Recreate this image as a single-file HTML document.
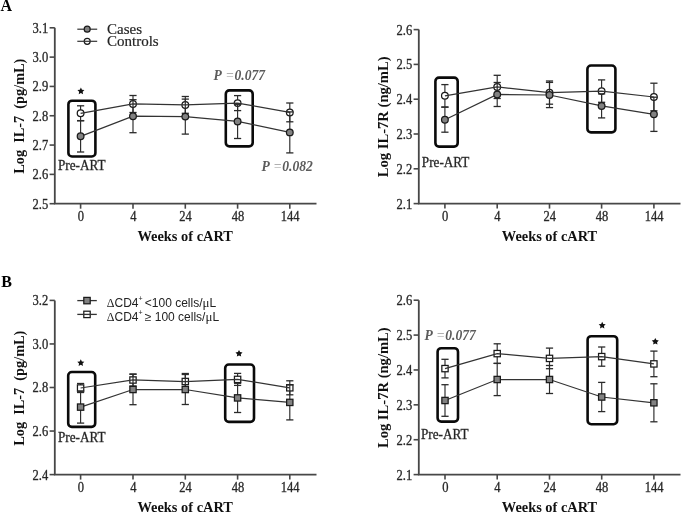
<!DOCTYPE html>
<html><head><meta charset="utf-8"><style>
html,body{margin:0;padding:0;background:#fff;}
body{width:685px;height:514px;overflow:hidden;font-family:"Liberation Serif", serif;}
svg{display:block;filter:blur(0.35px);}
</style></head><body>
<svg width="685" height="514" viewBox="0 0 685 514">
<rect width="685" height="514" fill="#fff"/>
<path d="M54.8,27.8 L54.8,203.7 L316.5,203.7" fill="none" stroke="#474747" stroke-width="1.8"/>
<line x1="49.6" y1="27.8" x2="54.8" y2="27.8" stroke="#474747" stroke-width="1.6"/>
<text x="0" y="0" transform="translate(48.2,32.7) scale(0.95,1.12)" font-family='"Liberation Serif", serif' font-size="13.2" font-weight="normal" font-style="normal" text-anchor="end" fill="#222" stroke="#333" stroke-width="0.3">3.1</text>
<line x1="49.6" y1="57.12" x2="54.8" y2="57.12" stroke="#474747" stroke-width="1.6"/>
<text x="0" y="0" transform="translate(48.2,62.02) scale(0.95,1.12)" font-family='"Liberation Serif", serif' font-size="13.2" font-weight="normal" font-style="normal" text-anchor="end" fill="#222" stroke="#333" stroke-width="0.3">3.0</text>
<line x1="49.6" y1="86.43" x2="54.8" y2="86.43" stroke="#474747" stroke-width="1.6"/>
<text x="0" y="0" transform="translate(48.2,91.33) scale(0.95,1.12)" font-family='"Liberation Serif", serif' font-size="13.2" font-weight="normal" font-style="normal" text-anchor="end" fill="#222" stroke="#333" stroke-width="0.3">2.9</text>
<line x1="49.6" y1="115.75" x2="54.8" y2="115.75" stroke="#474747" stroke-width="1.6"/>
<text x="0" y="0" transform="translate(48.2,120.65) scale(0.95,1.12)" font-family='"Liberation Serif", serif' font-size="13.2" font-weight="normal" font-style="normal" text-anchor="end" fill="#222" stroke="#333" stroke-width="0.3">2.8</text>
<line x1="49.6" y1="145.07" x2="54.8" y2="145.07" stroke="#474747" stroke-width="1.6"/>
<text x="0" y="0" transform="translate(48.2,149.97) scale(0.95,1.12)" font-family='"Liberation Serif", serif' font-size="13.2" font-weight="normal" font-style="normal" text-anchor="end" fill="#222" stroke="#333" stroke-width="0.3">2.7</text>
<line x1="49.6" y1="174.38" x2="54.8" y2="174.38" stroke="#474747" stroke-width="1.6"/>
<text x="0" y="0" transform="translate(48.2,179.28) scale(0.95,1.12)" font-family='"Liberation Serif", serif' font-size="13.2" font-weight="normal" font-style="normal" text-anchor="end" fill="#222" stroke="#333" stroke-width="0.3">2.6</text>
<line x1="49.6" y1="203.7" x2="54.8" y2="203.7" stroke="#474747" stroke-width="1.6"/>
<text x="0" y="0" transform="translate(48.2,208.6) scale(0.95,1.12)" font-family='"Liberation Serif", serif' font-size="13.2" font-weight="normal" font-style="normal" text-anchor="end" fill="#222" stroke="#333" stroke-width="0.3">2.5</text>
<line x1="80.6" y1="203.7" x2="80.6" y2="208.7" stroke="#474747" stroke-width="1.6"/>
<text x="0" y="0" transform="translate(80.9,221) scale(0.95,1.12)" font-family='"Liberation Serif", serif' font-size="13.2" font-weight="normal" font-style="normal" text-anchor="middle" fill="#222" stroke="#333" stroke-width="0.3">0</text>
<line x1="133" y1="203.7" x2="133" y2="208.7" stroke="#474747" stroke-width="1.6"/>
<text x="0" y="0" transform="translate(133.3,221) scale(0.95,1.12)" font-family='"Liberation Serif", serif' font-size="13.2" font-weight="normal" font-style="normal" text-anchor="middle" fill="#222" stroke="#333" stroke-width="0.3">4</text>
<line x1="185.3" y1="203.7" x2="185.3" y2="208.7" stroke="#474747" stroke-width="1.6"/>
<text x="0" y="0" transform="translate(185.6,221) scale(0.95,1.12)" font-family='"Liberation Serif", serif' font-size="13.2" font-weight="normal" font-style="normal" text-anchor="middle" fill="#222" stroke="#333" stroke-width="0.3">24</text>
<line x1="237.6" y1="203.7" x2="237.6" y2="208.7" stroke="#474747" stroke-width="1.6"/>
<text x="0" y="0" transform="translate(237.9,221) scale(0.95,1.12)" font-family='"Liberation Serif", serif' font-size="13.2" font-weight="normal" font-style="normal" text-anchor="middle" fill="#222" stroke="#333" stroke-width="0.3">48</text>
<line x1="289.8" y1="203.7" x2="289.8" y2="208.7" stroke="#474747" stroke-width="1.6"/>
<text x="0" y="0" transform="translate(290.1,221) scale(0.95,1.12)" font-family='"Liberation Serif", serif' font-size="13.2" font-weight="normal" font-style="normal" text-anchor="middle" fill="#222" stroke="#333" stroke-width="0.3">144</text>
<text x="185.2" y="240.9" font-family='"Liberation Serif", serif' font-size="14.4" font-weight="bold" font-style="normal" text-anchor="middle" fill="#111" >Weeks of cART</text>
<text x="0" y="0" font-family='"Liberation Serif", serif' font-size="14.3" font-weight="bold" font-style="normal" text-anchor="middle" fill="#111" transform="translate(24.4,116.2) rotate(-90)">Log&#160;&#160;IL-7&#160;&#160;(pg/mL)</text>
<rect x="68.4" y="100.7" width="27" height="55.8" rx="3.6" ry="3.6" fill="none" stroke="#0a0a0a" stroke-width="2.6"/>
<rect x="225.8" y="90.4" width="26.9" height="56" rx="3.6" ry="3.6" fill="none" stroke="#0a0a0a" stroke-width="2.6"/>
<line x1="80.6" y1="105.8" x2="80.6" y2="120.8" stroke="#2a2a2a" stroke-width="1.15"/>
<line x1="77" y1="105.8" x2="84.2" y2="105.8" stroke="#2a2a2a" stroke-width="1.3"/>
<line x1="77" y1="120.8" x2="84.2" y2="120.8" stroke="#2a2a2a" stroke-width="1.3"/>
<line x1="133" y1="95.5" x2="133" y2="112.5" stroke="#2a2a2a" stroke-width="1.15"/>
<line x1="129.4" y1="95.5" x2="136.6" y2="95.5" stroke="#2a2a2a" stroke-width="1.3"/>
<line x1="129.4" y1="112.5" x2="136.6" y2="112.5" stroke="#2a2a2a" stroke-width="1.3"/>
<line x1="185.3" y1="96.5" x2="185.3" y2="113.3" stroke="#2a2a2a" stroke-width="1.15"/>
<line x1="181.7" y1="96.5" x2="188.9" y2="96.5" stroke="#2a2a2a" stroke-width="1.3"/>
<line x1="181.7" y1="113.3" x2="188.9" y2="113.3" stroke="#2a2a2a" stroke-width="1.3"/>
<line x1="237.6" y1="95.6" x2="237.6" y2="110.6" stroke="#2a2a2a" stroke-width="1.15"/>
<line x1="234" y1="95.6" x2="241.2" y2="95.6" stroke="#2a2a2a" stroke-width="1.3"/>
<line x1="234" y1="110.6" x2="241.2" y2="110.6" stroke="#2a2a2a" stroke-width="1.3"/>
<line x1="289.8" y1="103" x2="289.8" y2="121.8" stroke="#2a2a2a" stroke-width="1.15"/>
<line x1="286.2" y1="103" x2="293.4" y2="103" stroke="#2a2a2a" stroke-width="1.3"/>
<line x1="286.2" y1="121.8" x2="293.4" y2="121.8" stroke="#2a2a2a" stroke-width="1.3"/>
<circle cx="80.6" cy="113.3" r="3.35" fill="#fff" stroke="#1a1a1a" stroke-width="1.25"/>
<circle cx="133" cy="104" r="3.35" fill="#fff" stroke="#1a1a1a" stroke-width="1.25"/>
<circle cx="185.3" cy="104.9" r="3.35" fill="#fff" stroke="#1a1a1a" stroke-width="1.25"/>
<circle cx="237.6" cy="103.1" r="3.35" fill="#fff" stroke="#1a1a1a" stroke-width="1.25"/>
<circle cx="289.8" cy="112.4" r="3.35" fill="#fff" stroke="#1a1a1a" stroke-width="1.25"/>
<polyline points="80.6,113.3 133,104 185.3,104.9 237.6,103.1 289.8,112.4" fill="none" stroke="#333" stroke-width="1.25"/>
<line x1="80.6" y1="120.6" x2="80.6" y2="152" stroke="#2a2a2a" stroke-width="1.15"/>
<line x1="77" y1="120.6" x2="84.2" y2="120.6" stroke="#2a2a2a" stroke-width="1.3"/>
<line x1="77" y1="152" x2="84.2" y2="152" stroke="#2a2a2a" stroke-width="1.3"/>
<line x1="133" y1="99.7" x2="133" y2="132.7" stroke="#2a2a2a" stroke-width="1.15"/>
<line x1="129.4" y1="99.7" x2="136.6" y2="99.7" stroke="#2a2a2a" stroke-width="1.3"/>
<line x1="129.4" y1="132.7" x2="136.6" y2="132.7" stroke="#2a2a2a" stroke-width="1.3"/>
<line x1="185.3" y1="99.1" x2="185.3" y2="134.1" stroke="#2a2a2a" stroke-width="1.15"/>
<line x1="181.7" y1="99.1" x2="188.9" y2="99.1" stroke="#2a2a2a" stroke-width="1.3"/>
<line x1="181.7" y1="134.1" x2="188.9" y2="134.1" stroke="#2a2a2a" stroke-width="1.3"/>
<line x1="237.6" y1="104.3" x2="237.6" y2="138.5" stroke="#2a2a2a" stroke-width="1.15"/>
<line x1="234" y1="104.3" x2="241.2" y2="104.3" stroke="#2a2a2a" stroke-width="1.3"/>
<line x1="234" y1="138.5" x2="241.2" y2="138.5" stroke="#2a2a2a" stroke-width="1.3"/>
<line x1="289.8" y1="111.9" x2="289.8" y2="152.9" stroke="#2a2a2a" stroke-width="1.15"/>
<line x1="286.2" y1="111.9" x2="293.4" y2="111.9" stroke="#2a2a2a" stroke-width="1.3"/>
<line x1="286.2" y1="152.9" x2="293.4" y2="152.9" stroke="#2a2a2a" stroke-width="1.3"/>
<polyline points="80.6,136.3 133,116.2 185.3,116.6 237.6,121.4 289.8,132.4" fill="none" stroke="#333" stroke-width="1.25"/>
<circle cx="80.6" cy="136.3" r="3.35" fill="#828282" stroke="#1a1a1a" stroke-width="1.25"/>
<circle cx="133" cy="116.2" r="3.35" fill="#828282" stroke="#1a1a1a" stroke-width="1.25"/>
<circle cx="185.3" cy="116.6" r="3.35" fill="#828282" stroke="#1a1a1a" stroke-width="1.25"/>
<circle cx="237.6" cy="121.4" r="3.35" fill="#828282" stroke="#1a1a1a" stroke-width="1.25"/>
<circle cx="289.8" cy="132.4" r="3.35" fill="#828282" stroke="#1a1a1a" stroke-width="1.25"/>
<polygon points="80.9,87.5 81.99,89.7 84.42,90.06 82.66,91.77 83.07,94.19 80.9,93.05 78.73,94.19 79.14,91.77 77.38,90.06 79.81,89.7" fill="#111"/>
<text x="0" y="0" transform="translate(58,170.3) scale(1.0,1.1)" font-family='"Liberation Serif", serif' font-size="13.2" font-weight="normal" font-style="normal" text-anchor="start" fill="#222" stroke="#333" stroke-width="0.3">Pre-ART</text>
<path d="M418.8,29.6 L418.8,203.6 L680.5,203.6" fill="none" stroke="#474747" stroke-width="1.8"/>
<line x1="413.6" y1="29.6" x2="418.8" y2="29.6" stroke="#474747" stroke-width="1.6"/>
<text x="0" y="0" transform="translate(412.2,34.5) scale(0.95,1.12)" font-family='"Liberation Serif", serif' font-size="13.2" font-weight="normal" font-style="normal" text-anchor="end" fill="#222" stroke="#333" stroke-width="0.3">2.6</text>
<line x1="413.6" y1="64.4" x2="418.8" y2="64.4" stroke="#474747" stroke-width="1.6"/>
<text x="0" y="0" transform="translate(412.2,69.3) scale(0.95,1.12)" font-family='"Liberation Serif", serif' font-size="13.2" font-weight="normal" font-style="normal" text-anchor="end" fill="#222" stroke="#333" stroke-width="0.3">2.5</text>
<line x1="413.6" y1="99.2" x2="418.8" y2="99.2" stroke="#474747" stroke-width="1.6"/>
<text x="0" y="0" transform="translate(412.2,104.1) scale(0.95,1.12)" font-family='"Liberation Serif", serif' font-size="13.2" font-weight="normal" font-style="normal" text-anchor="end" fill="#222" stroke="#333" stroke-width="0.3">2.4</text>
<line x1="413.6" y1="134" x2="418.8" y2="134" stroke="#474747" stroke-width="1.6"/>
<text x="0" y="0" transform="translate(412.2,138.9) scale(0.95,1.12)" font-family='"Liberation Serif", serif' font-size="13.2" font-weight="normal" font-style="normal" text-anchor="end" fill="#222" stroke="#333" stroke-width="0.3">2.3</text>
<line x1="413.6" y1="168.8" x2="418.8" y2="168.8" stroke="#474747" stroke-width="1.6"/>
<text x="0" y="0" transform="translate(412.2,173.7) scale(0.95,1.12)" font-family='"Liberation Serif", serif' font-size="13.2" font-weight="normal" font-style="normal" text-anchor="end" fill="#222" stroke="#333" stroke-width="0.3">2.2</text>
<line x1="413.6" y1="203.6" x2="418.8" y2="203.6" stroke="#474747" stroke-width="1.6"/>
<text x="0" y="0" transform="translate(412.2,208.5) scale(0.95,1.12)" font-family='"Liberation Serif", serif' font-size="13.2" font-weight="normal" font-style="normal" text-anchor="end" fill="#222" stroke="#333" stroke-width="0.3">2.1</text>
<line x1="444.9" y1="203.6" x2="444.9" y2="208.6" stroke="#474747" stroke-width="1.6"/>
<text x="0" y="0" transform="translate(445.2,220.9) scale(0.95,1.12)" font-family='"Liberation Serif", serif' font-size="13.2" font-weight="normal" font-style="normal" text-anchor="middle" fill="#222" stroke="#333" stroke-width="0.3">0</text>
<line x1="497.2" y1="203.6" x2="497.2" y2="208.6" stroke="#474747" stroke-width="1.6"/>
<text x="0" y="0" transform="translate(497.5,220.9) scale(0.95,1.12)" font-family='"Liberation Serif", serif' font-size="13.2" font-weight="normal" font-style="normal" text-anchor="middle" fill="#222" stroke="#333" stroke-width="0.3">4</text>
<line x1="549.5" y1="203.6" x2="549.5" y2="208.6" stroke="#474747" stroke-width="1.6"/>
<text x="0" y="0" transform="translate(549.8,220.9) scale(0.95,1.12)" font-family='"Liberation Serif", serif' font-size="13.2" font-weight="normal" font-style="normal" text-anchor="middle" fill="#222" stroke="#333" stroke-width="0.3">24</text>
<line x1="601.6" y1="203.6" x2="601.6" y2="208.6" stroke="#474747" stroke-width="1.6"/>
<text x="0" y="0" transform="translate(601.9,220.9) scale(0.95,1.12)" font-family='"Liberation Serif", serif' font-size="13.2" font-weight="normal" font-style="normal" text-anchor="middle" fill="#222" stroke="#333" stroke-width="0.3">48</text>
<line x1="653.9" y1="203.6" x2="653.9" y2="208.6" stroke="#474747" stroke-width="1.6"/>
<text x="0" y="0" transform="translate(654.2,220.9) scale(0.95,1.12)" font-family='"Liberation Serif", serif' font-size="13.2" font-weight="normal" font-style="normal" text-anchor="middle" fill="#222" stroke="#333" stroke-width="0.3">144</text>
<text x="549.5" y="240.8" font-family='"Liberation Serif", serif' font-size="14.4" font-weight="bold" font-style="normal" text-anchor="middle" fill="#111" >Weeks of cART</text>
<text x="0" y="0" font-family='"Liberation Serif", serif' font-size="14.6" font-weight="bold" font-style="normal" text-anchor="middle" fill="#111" transform="translate(388.4,116.8) rotate(-90)">Log IL-7R (ng/mL)</text>
<rect x="435.4" y="77.6" width="22.3" height="69" rx="3.6" ry="3.6" fill="none" stroke="#0a0a0a" stroke-width="2.6"/>
<rect x="587.4" y="65.5" width="28" height="66.9" rx="3.6" ry="3.6" fill="none" stroke="#0a0a0a" stroke-width="2.6"/>
<line x1="444.9" y1="84.6" x2="444.9" y2="107" stroke="#2a2a2a" stroke-width="1.15"/>
<line x1="441.3" y1="84.6" x2="448.5" y2="84.6" stroke="#2a2a2a" stroke-width="1.3"/>
<line x1="441.3" y1="107" x2="448.5" y2="107" stroke="#2a2a2a" stroke-width="1.3"/>
<line x1="497.2" y1="75.3" x2="497.2" y2="98.5" stroke="#2a2a2a" stroke-width="1.15"/>
<line x1="493.6" y1="75.3" x2="500.8" y2="75.3" stroke="#2a2a2a" stroke-width="1.3"/>
<line x1="493.6" y1="98.5" x2="500.8" y2="98.5" stroke="#2a2a2a" stroke-width="1.3"/>
<line x1="549.5" y1="81" x2="549.5" y2="104.2" stroke="#2a2a2a" stroke-width="1.15"/>
<line x1="545.9" y1="81" x2="553.1" y2="81" stroke="#2a2a2a" stroke-width="1.3"/>
<line x1="545.9" y1="104.2" x2="553.1" y2="104.2" stroke="#2a2a2a" stroke-width="1.3"/>
<line x1="601.6" y1="79.9" x2="601.6" y2="102.3" stroke="#2a2a2a" stroke-width="1.15"/>
<line x1="598" y1="79.9" x2="605.2" y2="79.9" stroke="#2a2a2a" stroke-width="1.3"/>
<line x1="598" y1="102.3" x2="605.2" y2="102.3" stroke="#2a2a2a" stroke-width="1.3"/>
<line x1="653.9" y1="83.2" x2="653.9" y2="110.8" stroke="#2a2a2a" stroke-width="1.15"/>
<line x1="650.3" y1="83.2" x2="657.5" y2="83.2" stroke="#2a2a2a" stroke-width="1.3"/>
<line x1="650.3" y1="110.8" x2="657.5" y2="110.8" stroke="#2a2a2a" stroke-width="1.3"/>
<circle cx="444.9" cy="95.8" r="3.35" fill="#fff" stroke="#1a1a1a" stroke-width="1.25"/>
<circle cx="497.2" cy="86.9" r="3.35" fill="#fff" stroke="#1a1a1a" stroke-width="1.25"/>
<circle cx="549.5" cy="92.6" r="3.35" fill="#fff" stroke="#1a1a1a" stroke-width="1.25"/>
<circle cx="601.6" cy="91.1" r="3.35" fill="#fff" stroke="#1a1a1a" stroke-width="1.25"/>
<circle cx="653.9" cy="97" r="3.35" fill="#fff" stroke="#1a1a1a" stroke-width="1.25"/>
<polyline points="444.9,95.8 497.2,86.9 549.5,92.6 601.6,91.1 653.9,97" fill="none" stroke="#333" stroke-width="1.25"/>
<line x1="444.9" y1="107.2" x2="444.9" y2="132.2" stroke="#2a2a2a" stroke-width="1.15"/>
<line x1="441.3" y1="107.2" x2="448.5" y2="107.2" stroke="#2a2a2a" stroke-width="1.3"/>
<line x1="441.3" y1="132.2" x2="448.5" y2="132.2" stroke="#2a2a2a" stroke-width="1.3"/>
<line x1="497.2" y1="82.5" x2="497.2" y2="106.5" stroke="#2a2a2a" stroke-width="1.15"/>
<line x1="493.6" y1="82.5" x2="500.8" y2="82.5" stroke="#2a2a2a" stroke-width="1.3"/>
<line x1="493.6" y1="106.5" x2="500.8" y2="106.5" stroke="#2a2a2a" stroke-width="1.3"/>
<line x1="549.5" y1="82.4" x2="549.5" y2="107.6" stroke="#2a2a2a" stroke-width="1.15"/>
<line x1="545.9" y1="82.4" x2="553.1" y2="82.4" stroke="#2a2a2a" stroke-width="1.3"/>
<line x1="545.9" y1="107.6" x2="553.1" y2="107.6" stroke="#2a2a2a" stroke-width="1.3"/>
<line x1="601.6" y1="93.9" x2="601.6" y2="117.9" stroke="#2a2a2a" stroke-width="1.15"/>
<line x1="598" y1="93.9" x2="605.2" y2="93.9" stroke="#2a2a2a" stroke-width="1.3"/>
<line x1="598" y1="117.9" x2="605.2" y2="117.9" stroke="#2a2a2a" stroke-width="1.3"/>
<line x1="653.9" y1="97.2" x2="653.9" y2="131.4" stroke="#2a2a2a" stroke-width="1.15"/>
<line x1="650.3" y1="97.2" x2="657.5" y2="97.2" stroke="#2a2a2a" stroke-width="1.3"/>
<line x1="650.3" y1="131.4" x2="657.5" y2="131.4" stroke="#2a2a2a" stroke-width="1.3"/>
<polyline points="444.9,119.7 497.2,94.5 549.5,95 601.6,105.9 653.9,114.3" fill="none" stroke="#333" stroke-width="1.25"/>
<circle cx="444.9" cy="119.7" r="3.35" fill="#828282" stroke="#1a1a1a" stroke-width="1.25"/>
<circle cx="497.2" cy="94.5" r="3.35" fill="#828282" stroke="#1a1a1a" stroke-width="1.25"/>
<circle cx="549.5" cy="95" r="3.35" fill="#828282" stroke="#1a1a1a" stroke-width="1.25"/>
<circle cx="601.6" cy="105.9" r="3.35" fill="#828282" stroke="#1a1a1a" stroke-width="1.25"/>
<circle cx="653.9" cy="114.3" r="3.35" fill="#828282" stroke="#1a1a1a" stroke-width="1.25"/>
<text x="0" y="0" transform="translate(421.8,166.8) scale(1.0,1.1)" font-family='"Liberation Serif", serif' font-size="13.2" font-weight="normal" font-style="normal" text-anchor="start" fill="#222" stroke="#333" stroke-width="0.3">Pre-ART</text>
<path d="M54.8,300.4 L54.8,474.6 L316.5,474.6" fill="none" stroke="#474747" stroke-width="1.8"/>
<line x1="49.6" y1="300.4" x2="54.8" y2="300.4" stroke="#474747" stroke-width="1.6"/>
<text x="0" y="0" transform="translate(48.2,305.3) scale(0.95,1.12)" font-family='"Liberation Serif", serif' font-size="13.2" font-weight="normal" font-style="normal" text-anchor="end" fill="#222" stroke="#333" stroke-width="0.3">3.2</text>
<line x1="49.6" y1="343.95" x2="54.8" y2="343.95" stroke="#474747" stroke-width="1.6"/>
<text x="0" y="0" transform="translate(48.2,348.85) scale(0.95,1.12)" font-family='"Liberation Serif", serif' font-size="13.2" font-weight="normal" font-style="normal" text-anchor="end" fill="#222" stroke="#333" stroke-width="0.3">3.0</text>
<line x1="49.6" y1="387.5" x2="54.8" y2="387.5" stroke="#474747" stroke-width="1.6"/>
<text x="0" y="0" transform="translate(48.2,392.4) scale(0.95,1.12)" font-family='"Liberation Serif", serif' font-size="13.2" font-weight="normal" font-style="normal" text-anchor="end" fill="#222" stroke="#333" stroke-width="0.3">2.8</text>
<line x1="49.6" y1="431.05" x2="54.8" y2="431.05" stroke="#474747" stroke-width="1.6"/>
<text x="0" y="0" transform="translate(48.2,435.95) scale(0.95,1.12)" font-family='"Liberation Serif", serif' font-size="13.2" font-weight="normal" font-style="normal" text-anchor="end" fill="#222" stroke="#333" stroke-width="0.3">2.6</text>
<line x1="49.6" y1="474.6" x2="54.8" y2="474.6" stroke="#474747" stroke-width="1.6"/>
<text x="0" y="0" transform="translate(48.2,479.5) scale(0.95,1.12)" font-family='"Liberation Serif", serif' font-size="13.2" font-weight="normal" font-style="normal" text-anchor="end" fill="#222" stroke="#333" stroke-width="0.3">2.4</text>
<line x1="80.6" y1="474.6" x2="80.6" y2="479.6" stroke="#474747" stroke-width="1.6"/>
<text x="0" y="0" transform="translate(80.9,491.9) scale(0.95,1.12)" font-family='"Liberation Serif", serif' font-size="13.2" font-weight="normal" font-style="normal" text-anchor="middle" fill="#222" stroke="#333" stroke-width="0.3">0</text>
<line x1="133" y1="474.6" x2="133" y2="479.6" stroke="#474747" stroke-width="1.6"/>
<text x="0" y="0" transform="translate(133.3,491.9) scale(0.95,1.12)" font-family='"Liberation Serif", serif' font-size="13.2" font-weight="normal" font-style="normal" text-anchor="middle" fill="#222" stroke="#333" stroke-width="0.3">4</text>
<line x1="185.3" y1="474.6" x2="185.3" y2="479.6" stroke="#474747" stroke-width="1.6"/>
<text x="0" y="0" transform="translate(185.6,491.9) scale(0.95,1.12)" font-family='"Liberation Serif", serif' font-size="13.2" font-weight="normal" font-style="normal" text-anchor="middle" fill="#222" stroke="#333" stroke-width="0.3">24</text>
<line x1="237.6" y1="474.6" x2="237.6" y2="479.6" stroke="#474747" stroke-width="1.6"/>
<text x="0" y="0" transform="translate(237.9,491.9) scale(0.95,1.12)" font-family='"Liberation Serif", serif' font-size="13.2" font-weight="normal" font-style="normal" text-anchor="middle" fill="#222" stroke="#333" stroke-width="0.3">48</text>
<line x1="289.8" y1="474.6" x2="289.8" y2="479.6" stroke="#474747" stroke-width="1.6"/>
<text x="0" y="0" transform="translate(290.1,491.9) scale(0.95,1.12)" font-family='"Liberation Serif", serif' font-size="13.2" font-weight="normal" font-style="normal" text-anchor="middle" fill="#222" stroke="#333" stroke-width="0.3">144</text>
<text x="185.2" y="511.8" font-family='"Liberation Serif", serif' font-size="14.4" font-weight="bold" font-style="normal" text-anchor="middle" fill="#111" >Weeks of cART</text>
<text x="0" y="0" font-family='"Liberation Serif", serif' font-size="14.3" font-weight="bold" font-style="normal" text-anchor="middle" fill="#111" transform="translate(24.3,388.2) rotate(-90)">Log&#160;&#160;IL-7&#160;&#160;(pg/mL)</text>
<rect x="68.2" y="372" width="27" height="54.9" rx="3.6" ry="3.6" fill="none" stroke="#0a0a0a" stroke-width="2.6"/>
<rect x="225.2" y="364.5" width="28.8" height="57.4" rx="3.6" ry="3.6" fill="none" stroke="#0a0a0a" stroke-width="2.6"/>
<line x1="80.6" y1="383.5" x2="80.6" y2="392.5" stroke="#2a2a2a" stroke-width="1.15"/>
<line x1="77" y1="383.5" x2="84.2" y2="383.5" stroke="#2a2a2a" stroke-width="1.3"/>
<line x1="77" y1="392.5" x2="84.2" y2="392.5" stroke="#2a2a2a" stroke-width="1.3"/>
<line x1="133" y1="374" x2="133" y2="386" stroke="#2a2a2a" stroke-width="1.15"/>
<line x1="129.4" y1="374" x2="136.6" y2="374" stroke="#2a2a2a" stroke-width="1.3"/>
<line x1="129.4" y1="386" x2="136.6" y2="386" stroke="#2a2a2a" stroke-width="1.3"/>
<line x1="185.3" y1="373.5" x2="185.3" y2="389.5" stroke="#2a2a2a" stroke-width="1.15"/>
<line x1="181.7" y1="373.5" x2="188.9" y2="373.5" stroke="#2a2a2a" stroke-width="1.3"/>
<line x1="181.7" y1="389.5" x2="188.9" y2="389.5" stroke="#2a2a2a" stroke-width="1.3"/>
<line x1="237.6" y1="373.4" x2="237.6" y2="385.4" stroke="#2a2a2a" stroke-width="1.15"/>
<line x1="234" y1="373.4" x2="241.2" y2="373.4" stroke="#2a2a2a" stroke-width="1.3"/>
<line x1="234" y1="385.4" x2="241.2" y2="385.4" stroke="#2a2a2a" stroke-width="1.3"/>
<line x1="289.8" y1="380.8" x2="289.8" y2="394.8" stroke="#2a2a2a" stroke-width="1.15"/>
<line x1="286.2" y1="380.8" x2="293.4" y2="380.8" stroke="#2a2a2a" stroke-width="1.3"/>
<line x1="286.2" y1="394.8" x2="293.4" y2="394.8" stroke="#2a2a2a" stroke-width="1.3"/>
<rect x="77.45" y="384.85" width="6.3" height="6.3" fill="#fff" stroke="#1a1a1a" stroke-width="1.25"/>
<rect x="129.85" y="376.85" width="6.3" height="6.3" fill="#fff" stroke="#1a1a1a" stroke-width="1.25"/>
<rect x="182.15" y="378.35" width="6.3" height="6.3" fill="#fff" stroke="#1a1a1a" stroke-width="1.25"/>
<rect x="234.45" y="376.25" width="6.3" height="6.3" fill="#fff" stroke="#1a1a1a" stroke-width="1.25"/>
<rect x="286.65" y="384.65" width="6.3" height="6.3" fill="#fff" stroke="#1a1a1a" stroke-width="1.25"/>
<polyline points="80.6,388 133,380 185.3,381.5 237.6,379.4 289.8,387.8" fill="none" stroke="#333" stroke-width="1.25"/>
<line x1="80.6" y1="391.1" x2="80.6" y2="423.1" stroke="#2a2a2a" stroke-width="1.15"/>
<line x1="77" y1="391.1" x2="84.2" y2="391.1" stroke="#2a2a2a" stroke-width="1.3"/>
<line x1="77" y1="423.1" x2="84.2" y2="423.1" stroke="#2a2a2a" stroke-width="1.3"/>
<line x1="133" y1="374.3" x2="133" y2="404.7" stroke="#2a2a2a" stroke-width="1.15"/>
<line x1="129.4" y1="374.3" x2="136.6" y2="374.3" stroke="#2a2a2a" stroke-width="1.3"/>
<line x1="129.4" y1="404.7" x2="136.6" y2="404.7" stroke="#2a2a2a" stroke-width="1.3"/>
<line x1="185.3" y1="374.5" x2="185.3" y2="404.5" stroke="#2a2a2a" stroke-width="1.15"/>
<line x1="181.7" y1="374.5" x2="188.9" y2="374.5" stroke="#2a2a2a" stroke-width="1.3"/>
<line x1="181.7" y1="404.5" x2="188.9" y2="404.5" stroke="#2a2a2a" stroke-width="1.3"/>
<line x1="237.6" y1="383.3" x2="237.6" y2="412.5" stroke="#2a2a2a" stroke-width="1.15"/>
<line x1="234" y1="383.3" x2="241.2" y2="383.3" stroke="#2a2a2a" stroke-width="1.3"/>
<line x1="234" y1="412.5" x2="241.2" y2="412.5" stroke="#2a2a2a" stroke-width="1.3"/>
<line x1="289.8" y1="384.9" x2="289.8" y2="419.9" stroke="#2a2a2a" stroke-width="1.15"/>
<line x1="286.2" y1="384.9" x2="293.4" y2="384.9" stroke="#2a2a2a" stroke-width="1.3"/>
<line x1="286.2" y1="419.9" x2="293.4" y2="419.9" stroke="#2a2a2a" stroke-width="1.3"/>
<polyline points="80.6,407.1 133,389.5 185.3,389.5 237.6,397.9 289.8,402.4" fill="none" stroke="#333" stroke-width="1.25"/>
<rect x="77.45" y="403.95" width="6.3" height="6.3" fill="#828282" stroke="#1a1a1a" stroke-width="1.25"/>
<rect x="129.85" y="386.35" width="6.3" height="6.3" fill="#828282" stroke="#1a1a1a" stroke-width="1.25"/>
<rect x="182.15" y="386.35" width="6.3" height="6.3" fill="#828282" stroke="#1a1a1a" stroke-width="1.25"/>
<rect x="234.45" y="394.75" width="6.3" height="6.3" fill="#828282" stroke="#1a1a1a" stroke-width="1.25"/>
<rect x="286.65" y="399.25" width="6.3" height="6.3" fill="#828282" stroke="#1a1a1a" stroke-width="1.25"/>
<polygon points="80.8,359.3 81.89,361.5 84.32,361.86 82.56,363.57 82.97,365.99 80.8,364.85 78.63,365.99 79.04,363.57 77.28,361.86 79.71,361.5" fill="#111"/>
<polygon points="239,349.9 240.09,352.1 242.52,352.46 240.76,354.17 241.17,356.59 239,355.45 236.83,356.59 237.24,354.17 235.48,352.46 237.91,352.1" fill="#111"/>
<text x="0" y="0" transform="translate(58,442) scale(1.0,1.1)" font-family='"Liberation Serif", serif' font-size="13.2" font-weight="normal" font-style="normal" text-anchor="start" fill="#222" stroke="#333" stroke-width="0.3">Pre-ART</text>
<path d="M418.8,300.2 L418.8,474.6 L680.5,474.6" fill="none" stroke="#474747" stroke-width="1.8"/>
<line x1="413.6" y1="300.2" x2="418.8" y2="300.2" stroke="#474747" stroke-width="1.6"/>
<text x="0" y="0" transform="translate(412.2,305.1) scale(0.95,1.12)" font-family='"Liberation Serif", serif' font-size="13.2" font-weight="normal" font-style="normal" text-anchor="end" fill="#222" stroke="#333" stroke-width="0.3">2.6</text>
<line x1="413.6" y1="335.08" x2="418.8" y2="335.08" stroke="#474747" stroke-width="1.6"/>
<text x="0" y="0" transform="translate(412.2,339.98) scale(0.95,1.12)" font-family='"Liberation Serif", serif' font-size="13.2" font-weight="normal" font-style="normal" text-anchor="end" fill="#222" stroke="#333" stroke-width="0.3">2.5</text>
<line x1="413.6" y1="369.96" x2="418.8" y2="369.96" stroke="#474747" stroke-width="1.6"/>
<text x="0" y="0" transform="translate(412.2,374.86) scale(0.95,1.12)" font-family='"Liberation Serif", serif' font-size="13.2" font-weight="normal" font-style="normal" text-anchor="end" fill="#222" stroke="#333" stroke-width="0.3">2.4</text>
<line x1="413.6" y1="404.84" x2="418.8" y2="404.84" stroke="#474747" stroke-width="1.6"/>
<text x="0" y="0" transform="translate(412.2,409.74) scale(0.95,1.12)" font-family='"Liberation Serif", serif' font-size="13.2" font-weight="normal" font-style="normal" text-anchor="end" fill="#222" stroke="#333" stroke-width="0.3">2.3</text>
<line x1="413.6" y1="439.72" x2="418.8" y2="439.72" stroke="#474747" stroke-width="1.6"/>
<text x="0" y="0" transform="translate(412.2,444.62) scale(0.95,1.12)" font-family='"Liberation Serif", serif' font-size="13.2" font-weight="normal" font-style="normal" text-anchor="end" fill="#222" stroke="#333" stroke-width="0.3">2.2</text>
<line x1="413.6" y1="474.6" x2="418.8" y2="474.6" stroke="#474747" stroke-width="1.6"/>
<text x="0" y="0" transform="translate(412.2,479.5) scale(0.95,1.12)" font-family='"Liberation Serif", serif' font-size="13.2" font-weight="normal" font-style="normal" text-anchor="end" fill="#222" stroke="#333" stroke-width="0.3">2.1</text>
<line x1="445" y1="474.6" x2="445" y2="479.6" stroke="#474747" stroke-width="1.6"/>
<text x="0" y="0" transform="translate(445.3,491.9) scale(0.95,1.12)" font-family='"Liberation Serif", serif' font-size="13.2" font-weight="normal" font-style="normal" text-anchor="middle" fill="#222" stroke="#333" stroke-width="0.3">0</text>
<line x1="497.2" y1="474.6" x2="497.2" y2="479.6" stroke="#474747" stroke-width="1.6"/>
<text x="0" y="0" transform="translate(497.5,491.9) scale(0.95,1.12)" font-family='"Liberation Serif", serif' font-size="13.2" font-weight="normal" font-style="normal" text-anchor="middle" fill="#222" stroke="#333" stroke-width="0.3">4</text>
<line x1="549.5" y1="474.6" x2="549.5" y2="479.6" stroke="#474747" stroke-width="1.6"/>
<text x="0" y="0" transform="translate(549.8,491.9) scale(0.95,1.12)" font-family='"Liberation Serif", serif' font-size="13.2" font-weight="normal" font-style="normal" text-anchor="middle" fill="#222" stroke="#333" stroke-width="0.3">24</text>
<line x1="601.7" y1="474.6" x2="601.7" y2="479.6" stroke="#474747" stroke-width="1.6"/>
<text x="0" y="0" transform="translate(602,491.9) scale(0.95,1.12)" font-family='"Liberation Serif", serif' font-size="13.2" font-weight="normal" font-style="normal" text-anchor="middle" fill="#222" stroke="#333" stroke-width="0.3">48</text>
<line x1="653.9" y1="474.6" x2="653.9" y2="479.6" stroke="#474747" stroke-width="1.6"/>
<text x="0" y="0" transform="translate(654.2,491.9) scale(0.95,1.12)" font-family='"Liberation Serif", serif' font-size="13.2" font-weight="normal" font-style="normal" text-anchor="middle" fill="#222" stroke="#333" stroke-width="0.3">144</text>
<text x="549.5" y="511.8" font-family='"Liberation Serif", serif' font-size="14.4" font-weight="bold" font-style="normal" text-anchor="middle" fill="#111" >Weeks of cART</text>
<text x="0" y="0" font-family='"Liberation Serif", serif' font-size="14.6" font-weight="bold" font-style="normal" text-anchor="middle" fill="#111" transform="translate(388.3,387.7) rotate(-90)">Log IL-7R (ng/mL)</text>
<rect x="437.6" y="348.2" width="20.4" height="73.4" rx="3.6" ry="3.6" fill="none" stroke="#0a0a0a" stroke-width="2.6"/>
<rect x="587.6" y="336.2" width="29.6" height="88" rx="3.6" ry="3.6" fill="none" stroke="#0a0a0a" stroke-width="2.6"/>
<line x1="445" y1="359.3" x2="445" y2="377.9" stroke="#2a2a2a" stroke-width="1.15"/>
<line x1="441.4" y1="359.3" x2="448.6" y2="359.3" stroke="#2a2a2a" stroke-width="1.3"/>
<line x1="441.4" y1="377.9" x2="448.6" y2="377.9" stroke="#2a2a2a" stroke-width="1.3"/>
<line x1="497.2" y1="343.8" x2="497.2" y2="363.4" stroke="#2a2a2a" stroke-width="1.15"/>
<line x1="493.6" y1="343.8" x2="500.8" y2="343.8" stroke="#2a2a2a" stroke-width="1.3"/>
<line x1="493.6" y1="363.4" x2="500.8" y2="363.4" stroke="#2a2a2a" stroke-width="1.3"/>
<line x1="549.5" y1="348.1" x2="549.5" y2="368.7" stroke="#2a2a2a" stroke-width="1.15"/>
<line x1="545.9" y1="348.1" x2="553.1" y2="348.1" stroke="#2a2a2a" stroke-width="1.3"/>
<line x1="545.9" y1="368.7" x2="553.1" y2="368.7" stroke="#2a2a2a" stroke-width="1.3"/>
<line x1="601.7" y1="347" x2="601.7" y2="366.2" stroke="#2a2a2a" stroke-width="1.15"/>
<line x1="598.1" y1="347" x2="605.3" y2="347" stroke="#2a2a2a" stroke-width="1.3"/>
<line x1="598.1" y1="366.2" x2="605.3" y2="366.2" stroke="#2a2a2a" stroke-width="1.3"/>
<line x1="653.9" y1="351.1" x2="653.9" y2="376.7" stroke="#2a2a2a" stroke-width="1.15"/>
<line x1="650.3" y1="351.1" x2="657.5" y2="351.1" stroke="#2a2a2a" stroke-width="1.3"/>
<line x1="650.3" y1="376.7" x2="657.5" y2="376.7" stroke="#2a2a2a" stroke-width="1.3"/>
<rect x="441.85" y="365.45" width="6.3" height="6.3" fill="#fff" stroke="#1a1a1a" stroke-width="1.25"/>
<rect x="494.05" y="350.45" width="6.3" height="6.3" fill="#fff" stroke="#1a1a1a" stroke-width="1.25"/>
<rect x="546.35" y="355.25" width="6.3" height="6.3" fill="#fff" stroke="#1a1a1a" stroke-width="1.25"/>
<rect x="598.55" y="353.45" width="6.3" height="6.3" fill="#fff" stroke="#1a1a1a" stroke-width="1.25"/>
<rect x="650.75" y="360.75" width="6.3" height="6.3" fill="#fff" stroke="#1a1a1a" stroke-width="1.25"/>
<polyline points="445,368.6 497.2,353.6 549.5,358.4 601.7,356.6 653.9,363.9" fill="none" stroke="#333" stroke-width="1.25"/>
<line x1="445" y1="384.7" x2="445" y2="416.3" stroke="#2a2a2a" stroke-width="1.15"/>
<line x1="441.4" y1="384.7" x2="448.6" y2="384.7" stroke="#2a2a2a" stroke-width="1.3"/>
<line x1="441.4" y1="416.3" x2="448.6" y2="416.3" stroke="#2a2a2a" stroke-width="1.3"/>
<line x1="497.2" y1="363.4" x2="497.2" y2="395.6" stroke="#2a2a2a" stroke-width="1.15"/>
<line x1="493.6" y1="363.4" x2="500.8" y2="363.4" stroke="#2a2a2a" stroke-width="1.3"/>
<line x1="493.6" y1="395.6" x2="500.8" y2="395.6" stroke="#2a2a2a" stroke-width="1.3"/>
<line x1="549.5" y1="365.5" x2="549.5" y2="393.5" stroke="#2a2a2a" stroke-width="1.15"/>
<line x1="545.9" y1="365.5" x2="553.1" y2="365.5" stroke="#2a2a2a" stroke-width="1.3"/>
<line x1="545.9" y1="393.5" x2="553.1" y2="393.5" stroke="#2a2a2a" stroke-width="1.3"/>
<line x1="601.7" y1="382.4" x2="601.7" y2="411.6" stroke="#2a2a2a" stroke-width="1.15"/>
<line x1="598.1" y1="382.4" x2="605.3" y2="382.4" stroke="#2a2a2a" stroke-width="1.3"/>
<line x1="598.1" y1="411.6" x2="605.3" y2="411.6" stroke="#2a2a2a" stroke-width="1.3"/>
<line x1="653.9" y1="383.8" x2="653.9" y2="421.8" stroke="#2a2a2a" stroke-width="1.15"/>
<line x1="650.3" y1="383.8" x2="657.5" y2="383.8" stroke="#2a2a2a" stroke-width="1.3"/>
<line x1="650.3" y1="421.8" x2="657.5" y2="421.8" stroke="#2a2a2a" stroke-width="1.3"/>
<polyline points="445,400.5 497.2,379.5 549.5,379.5 601.7,397 653.9,402.8" fill="none" stroke="#333" stroke-width="1.25"/>
<rect x="441.85" y="397.35" width="6.3" height="6.3" fill="#828282" stroke="#1a1a1a" stroke-width="1.25"/>
<rect x="494.05" y="376.35" width="6.3" height="6.3" fill="#828282" stroke="#1a1a1a" stroke-width="1.25"/>
<rect x="546.35" y="376.35" width="6.3" height="6.3" fill="#828282" stroke="#1a1a1a" stroke-width="1.25"/>
<rect x="598.55" y="393.85" width="6.3" height="6.3" fill="#828282" stroke="#1a1a1a" stroke-width="1.25"/>
<rect x="650.75" y="399.65" width="6.3" height="6.3" fill="#828282" stroke="#1a1a1a" stroke-width="1.25"/>
<polygon points="602.2,321.7 603.29,323.9 605.72,324.26 603.96,325.97 604.37,328.39 602.2,327.25 600.03,328.39 600.44,325.97 598.68,324.26 601.11,323.9" fill="#111"/>
<polygon points="655.3,337.9 656.39,340.1 658.82,340.46 657.06,342.17 657.47,344.59 655.3,343.45 653.13,344.59 653.54,342.17 651.78,340.46 654.21,340.1" fill="#111"/>
<text x="0" y="0" transform="translate(421,439.3) scale(1.0,1.1)" font-family='"Liberation Serif", serif' font-size="13.2" font-weight="normal" font-style="normal" text-anchor="start" fill="#222" stroke="#333" stroke-width="0.3">Pre-ART</text>
<text x="0.6" y="11" font-family='"Liberation Serif", serif' font-size="16" font-weight="bold" font-style="normal" text-anchor="start" fill="#000" >A</text>
<text x="1.2" y="286.5" font-family='"Liberation Serif", serif' font-size="16" font-weight="bold" font-style="normal" text-anchor="start" fill="#000" >B</text>
<line x1="77.3" y1="29.2" x2="97.2" y2="29.2" stroke="#333" stroke-width="1.2"/>
<circle cx="87.2" cy="29.2" r="3.0" fill="#828282" stroke="#1a1a1a" stroke-width="1.2"/>
<text x="0" y="0" transform="translate(107,34.2) scale(1.0001,1.0)" font-family='"Liberation Serif", serif' font-size="15" font-weight="normal" font-style="normal" text-anchor="start" fill="#222" stroke="#333" stroke-width="0.2">Cases</text>
<circle cx="87.2" cy="41.3" r="3.0" fill="#fff" stroke="#1a1a1a" stroke-width="1.2"/>
<line x1="77.3" y1="41.3" x2="97.2" y2="41.3" stroke="#333" stroke-width="1.2"/>
<text x="0" y="0" transform="translate(107,46.3) scale(1.0001,1.0)" font-family='"Liberation Serif", serif' font-size="15" font-weight="normal" font-style="normal" text-anchor="start" fill="#222" stroke="#333" stroke-width="0.2">Controls</text>
<line x1="77.3" y1="300.6" x2="96.8" y2="300.6" stroke="#333" stroke-width="1.3"/>
<rect x="83.8" y="297.4" width="6.4" height="6.4" fill="#828282" stroke="#1a1a1a" stroke-width="1.25"/>
<text x="106.8" y="306.7" font-family='"Liberation Sans", sans-serif' font-size="12" font-weight="normal" font-style="normal" text-anchor="start" fill="#222" ><tspan font-family="Liberation Serif">&#916;</tspan>CD4<tspan font-size="7" dy="-5.5">+</tspan><tspan dy="5.5" dx="2.2">&lt;100 cells/</tspan><tspan font-family="Liberation Serif" font-size="13">&#956;</tspan>L</text>
<rect x="83.8" y="311.2" width="6.4" height="6.4" fill="#fff" stroke="#1a1a1a" stroke-width="1.25"/>
<line x1="77.3" y1="314.4" x2="96.8" y2="314.4" stroke="#333" stroke-width="1.3"/>
<text x="106.8" y="320.5" font-family='"Liberation Sans", sans-serif' font-size="12" font-weight="normal" font-style="normal" text-anchor="start" fill="#222" ><tspan font-family="Liberation Serif">&#916;</tspan>CD4<tspan font-size="7" dy="-5.5">+</tspan><tspan dy="5.5" dx="2.2">&#8805; 100 cells/</tspan><tspan font-family="Liberation Serif" font-size="13">&#956;</tspan>L</text>
<text x="213.6" y="80" font-family='"Liberation Serif", serif' font-size="13.6" font-weight="bold" font-style="italic" text-anchor="start" fill="#5c5c5c" ><tspan >P</tspan><tspan fill="#999" font-weight="normal"> =</tspan><tspan >0.077</tspan></text>
<text x="261.4" y="170.6" font-family='"Liberation Serif", serif' font-size="13.6" font-weight="bold" font-style="italic" text-anchor="start" fill="#5c5c5c" ><tspan >P</tspan><tspan fill="#999" font-weight="normal"> =</tspan><tspan >0.082</tspan></text>
<text x="424.4" y="340.4" font-family='"Liberation Serif", serif' font-size="13.6" font-weight="bold" font-style="italic" text-anchor="start" fill="#5c5c5c" ><tspan >P</tspan><tspan fill="#999" font-weight="normal"> =</tspan><tspan >0.077</tspan></text>
</svg>
</body></html>
